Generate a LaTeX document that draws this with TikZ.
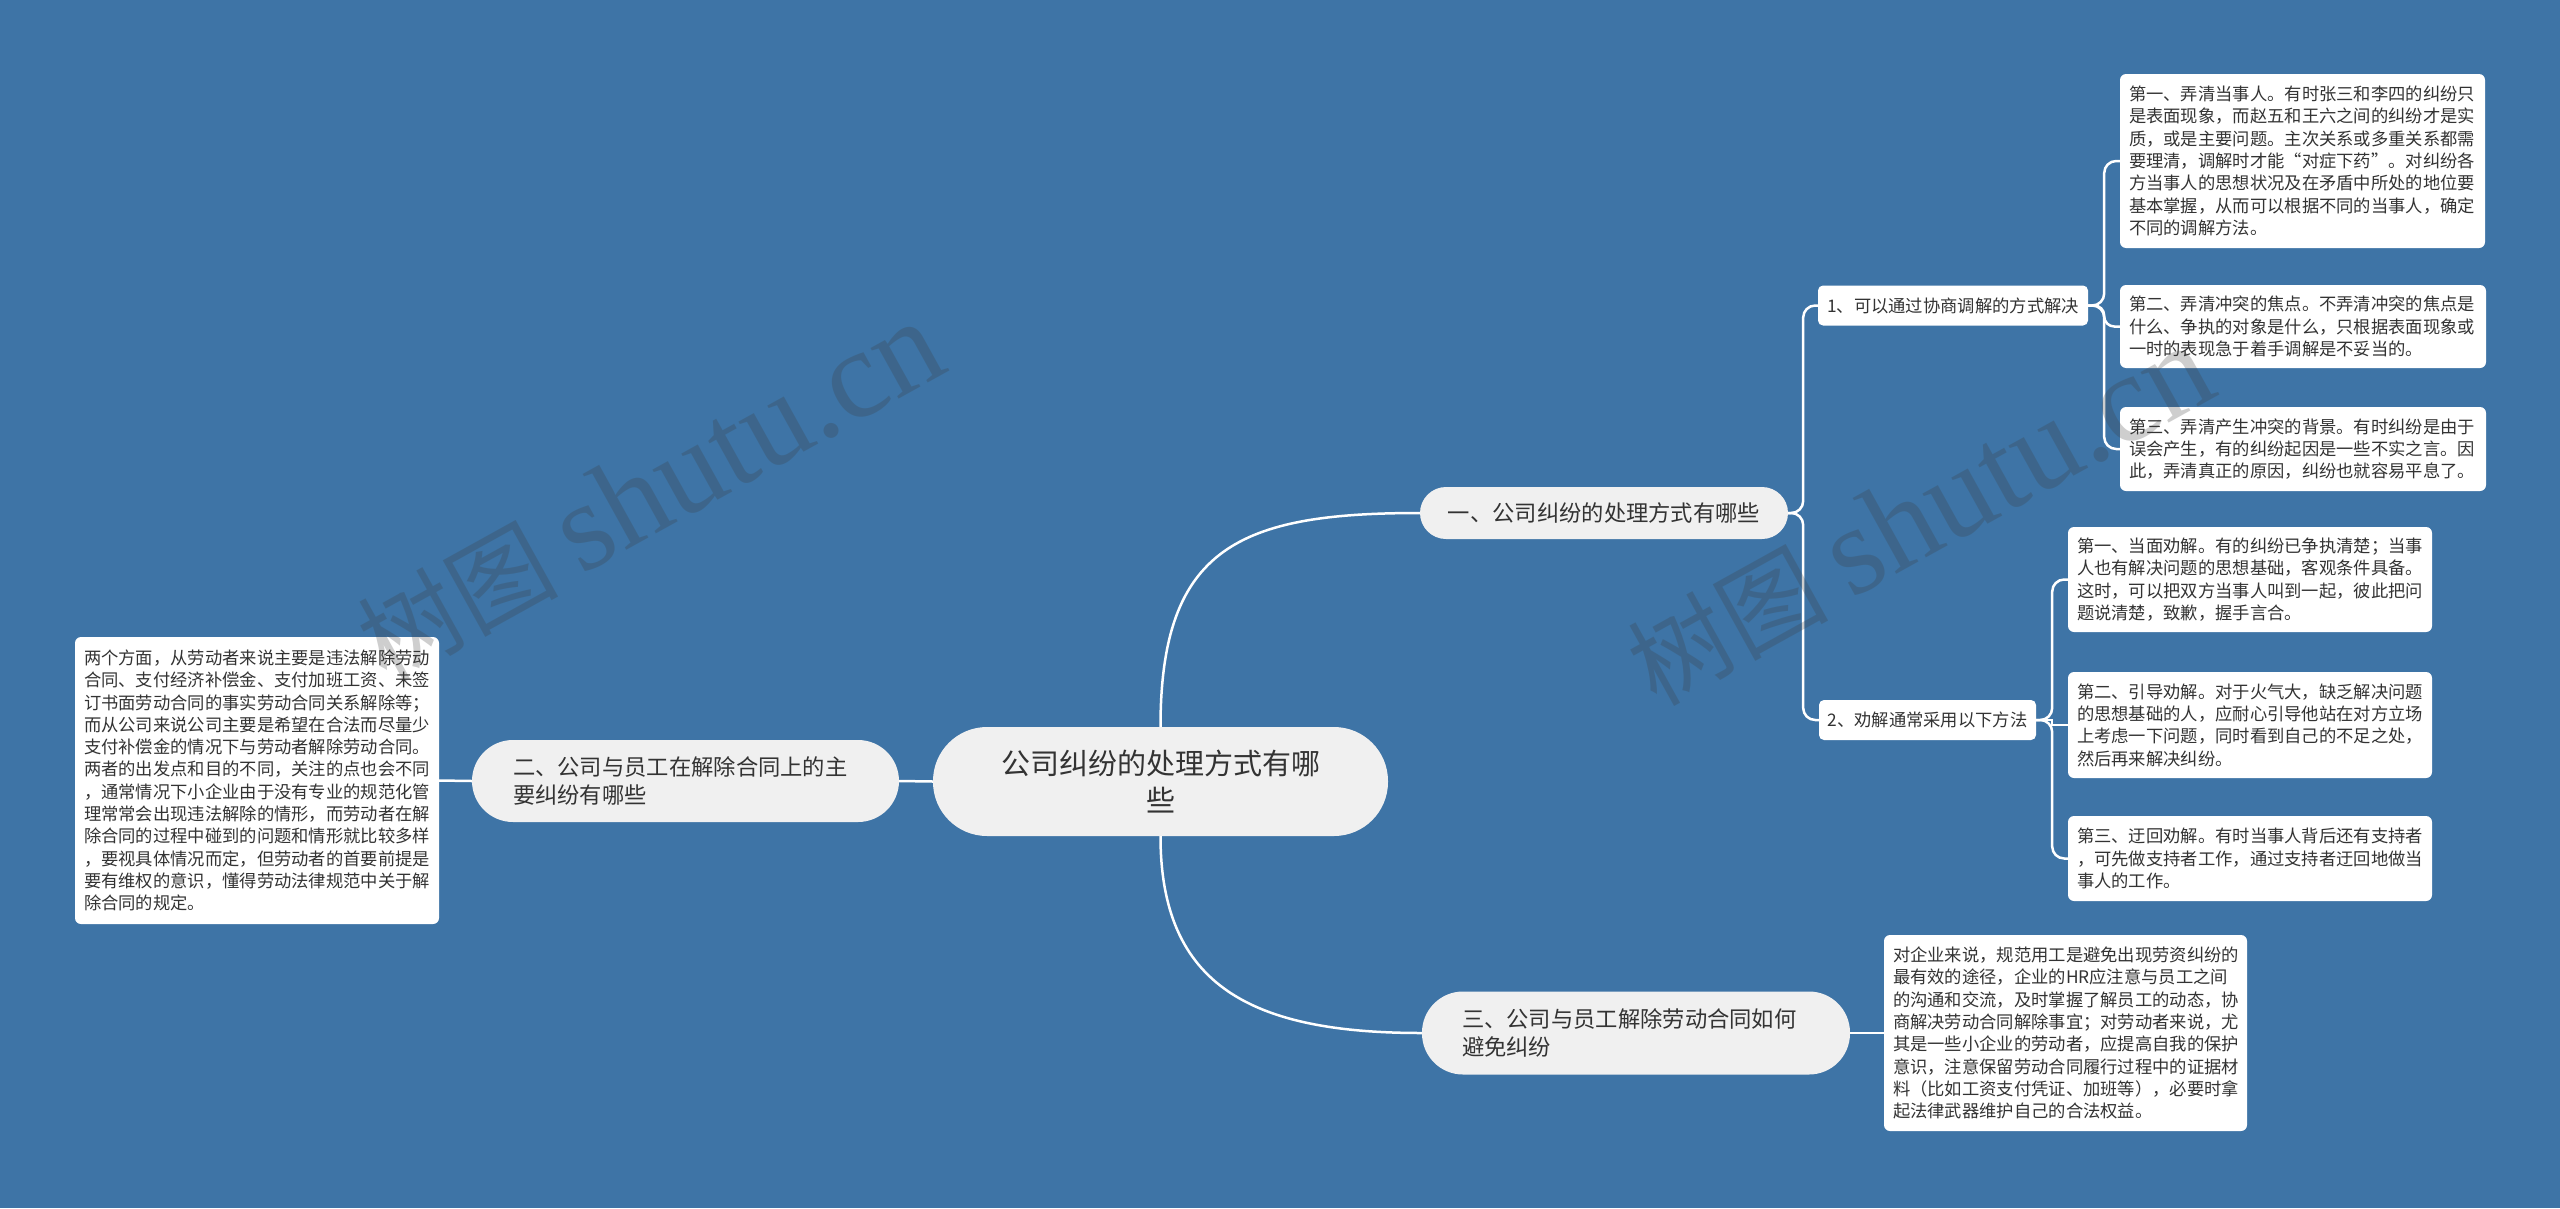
\documentclass[tikz,border=0pt]{standalone}
\usepackage{fontspec}
\setmainfont{Noto Sans CJK SC}
\newfontfamily\wmserif{Liberation Serif}
\definecolor{bg}{RGB}{62,116,166}
\definecolor{pillc}{RGB}{240,240,240}
\definecolor{txt}{RGB}{51,51,51}
\definecolor{wmc}{RGB}{60,60,60}
\begin{document}
\begin{tikzpicture}[x=1pt,y=-1pt,
  conn/.style={draw=white, line width=2.5pt},
  leafbox/.style={fill=white, rounded corners=6pt, text=txt, align=left,
    inner xsep=9pt, inner ysep=0pt, font=\fontsize{17.3}{22.3}\selectfont},
  subbox/.style={fill=white, rounded corners=5pt, text=txt, align=center,
    inner sep=0pt, minimum height=40pt, font=\fontsize{17.3}{22.3}\selectfont},
  branchbox/.style={fill=pillc, text=txt, inner ysep=0pt,
    font=\fontsize{22.3}{27.5}\selectfont},
  rootbox/.style={fill=pillc, text=txt, align=center, inner sep=0pt,
    rounded corners=54pt, minimum width=455pt, minimum height=109pt,
    font=\fontsize{29}{37}\selectfont},
  wmark/.style={text=wmc, text opacity=0.25, rotate=29, inner sep=0pt}
]
\useasboundingbox[fill=bg] (0,0) rectangle (2560,1208);

\node[rootbox] (root) at (1160.5,781.5) {公司纠纷的处理方式有哪\\些};

% branches
\node[branchbox, align=center, inner xsep=0pt, rounded corners=26pt,
  minimum width=368pt, minimum height=52pt] (b1) at (1604,513) {一、公司纠纷的处理方式有哪些};
\node[branchbox, align=left, inner xsep=41pt, text width=345pt, rounded corners=41pt,
  minimum height=82pt] (b2) at (685.5,781) {二、公司与员工在解除合同上的主\\要纠纷有哪些};
\node[branchbox, align=left, inner xsep=40pt, text width=348pt, rounded corners=41pt,
  minimum height=83pt] (b3) at (1636,1033) {三、公司与员工解除劳动合同如何\\避免纠纷};

% sub nodes
\node[subbox, minimum width=270pt] (s1) at (1953,305.5) {1、可以通过协商调解的方式解决};
\node[subbox, minimum width=217pt] (s2) at (1927.5,720) {2、劝解通常采用以下方法};

% leaves
\node[leafbox, text width=347pt, minimum height=174pt] (l1a) at (2302.5,161) {第一、弄清当事人。有时张三和李四的纠纷只\\是表面现象，而赵五和王六之间的纠纷才是实\\质，或是主要问题。主次关系或多重关系都需\\要理清，调解时才能“对症下药”。对纠纷各\\方当事人的思想状况及在矛盾中所处的地位要\\基本掌握，从而可以根据不同的当事人，确定\\不同的调解方法。};
\node[leafbox, text width=348pt, minimum height=83pt] (l1b) at (2303,326.5) {第二、弄清冲突的焦点。不弄清冲突的焦点是\\什么、争执的对象是什么，只根据表面现象或\\一时的表现急于着手调解是不妥当的。};
\node[leafbox, text width=348pt, minimum height=84pt] (l1c) at (2303,449) {第三、弄清产生冲突的背景。有时纠纷是由于\\误会产生，有的纠纷起因是一些不实之言。因\\此，弄清真正的原因，纠纷也就容易平息了。};

\node[leafbox, text width=346pt, minimum height=105pt] (l2a) at (2250,579.5) {第一、当面劝解。有的纠纷已争执清楚；当事\\人也有解决问题的思想基础，客观条件具备。\\这时，可以把双方当事人叫到一起，彼此把问\\题说清楚，致歉，握手言合。};
\node[leafbox, text width=346pt, minimum height=106pt] (l2b) at (2250,725) {第二、引导劝解。对于火气大，缺乏解决问题\\的思想基础的人，应耐心引导他站在对方立场\\上考虑一下问题，同时看到自己的不足之处，\\然后再来解决纠纷。};
\node[leafbox, text width=346pt, minimum height=85pt] (l2c) at (2250,858.5) {第三、迂回劝解。有时当事人背后还有支持者\\，可先做支持者工作，通过支持者迂回地做当\\事人的工作。};

\node[leafbox, text width=345pt, minimum height=196pt] (l3) at (2065.5,1033) {对企业来说，规范用工是避免出现劳资纠纷的\\最有效的途径，企业的HR应注意与员工之间\\的沟通和交流，及时掌握了解员工的动态，协\\商解决劳动合同解除事宜；对劳动者来说，尤\\其是一些小企业的劳动者，应提高自我的保护\\意识，注意保留劳动合同履行过程中的证据材\\料（比如工资支付凭证、加班等），必要时拿\\起法律武器维护自己的合法权益。};

\node[leafbox, text width=346pt, minimum height=287pt] (ll) at (257,780.5) {两个方面，从劳动者来说主要是违法解除劳动\\合同、支付经济补偿金、支付加班工资、未签\\订书面劳动合同的事实劳动合同关系解除等；\\而从公司来说公司主要是希望在合法而尽量少\\支付补偿金的情况下与劳动者解除劳动合同。\\两者的出发点和目的不同，关注的点也会不同\\，通常情况下小企业由于没有专业的规范化管\\理常常会出现违法解除的情形，而劳动者在解\\除合同的过程中碰到的问题和情形就比较多样\\，要视具体情况而定，但劳动者的首要前提是\\要有维权的意识，懂得劳动法律规范中关于解\\除合同的规定。};

% connectors
\draw[conn] (root.north) .. controls +(0,-180) and +(-180,0) .. (b1.west);
\draw[conn] (root.south) .. controls +(0,150) and +(-170,0) .. (b3.west);
\draw[conn] (root.west) -- (b2.east);
\draw[conn] (b2.west) -- (ll.east);
\draw[conn] (b3.east) -- (l3.west);

\draw[conn, rounded corners=12pt] (b1.east) -- ++(15,0) |- (s1.west);
\draw[conn, rounded corners=12pt] (b1.east) -- ++(15,0) |- (s2.west);

\draw[conn, rounded corners=12pt] (s1.east) -- ++(16,0) |- (l1a.west);
\draw[conn, rounded corners=10pt] (s1.east) -- ++(16,0) |- (l1b.west);
\draw[conn, rounded corners=12pt] (s1.east) -- ++(16,0) |- (l1c.west);

\draw[conn, rounded corners=12pt] (s2.east) -- ++(16,0) |- (l2a.west);
\draw[conn] (s2.east) -- ++(16,0) |- (l2b.west);
\draw[conn, rounded corners=12pt] (s2.east) -- ++(16,0) |- (l2c.west);

% watermarks (drawn on top, translucent)
\node[wmark] (wm1) at (650,492) {\fontsize{100}{110}\selectfont 树图 {\wmserif\fontsize{126}{130}\selectfont shutu.cn}};
\node[wmark] (wm2) at (1920,516) {\fontsize{100}{110}\selectfont 树图 {\wmserif\fontsize{126}{130}\selectfont shutu.cn}};
\end{tikzpicture}
\end{document}
